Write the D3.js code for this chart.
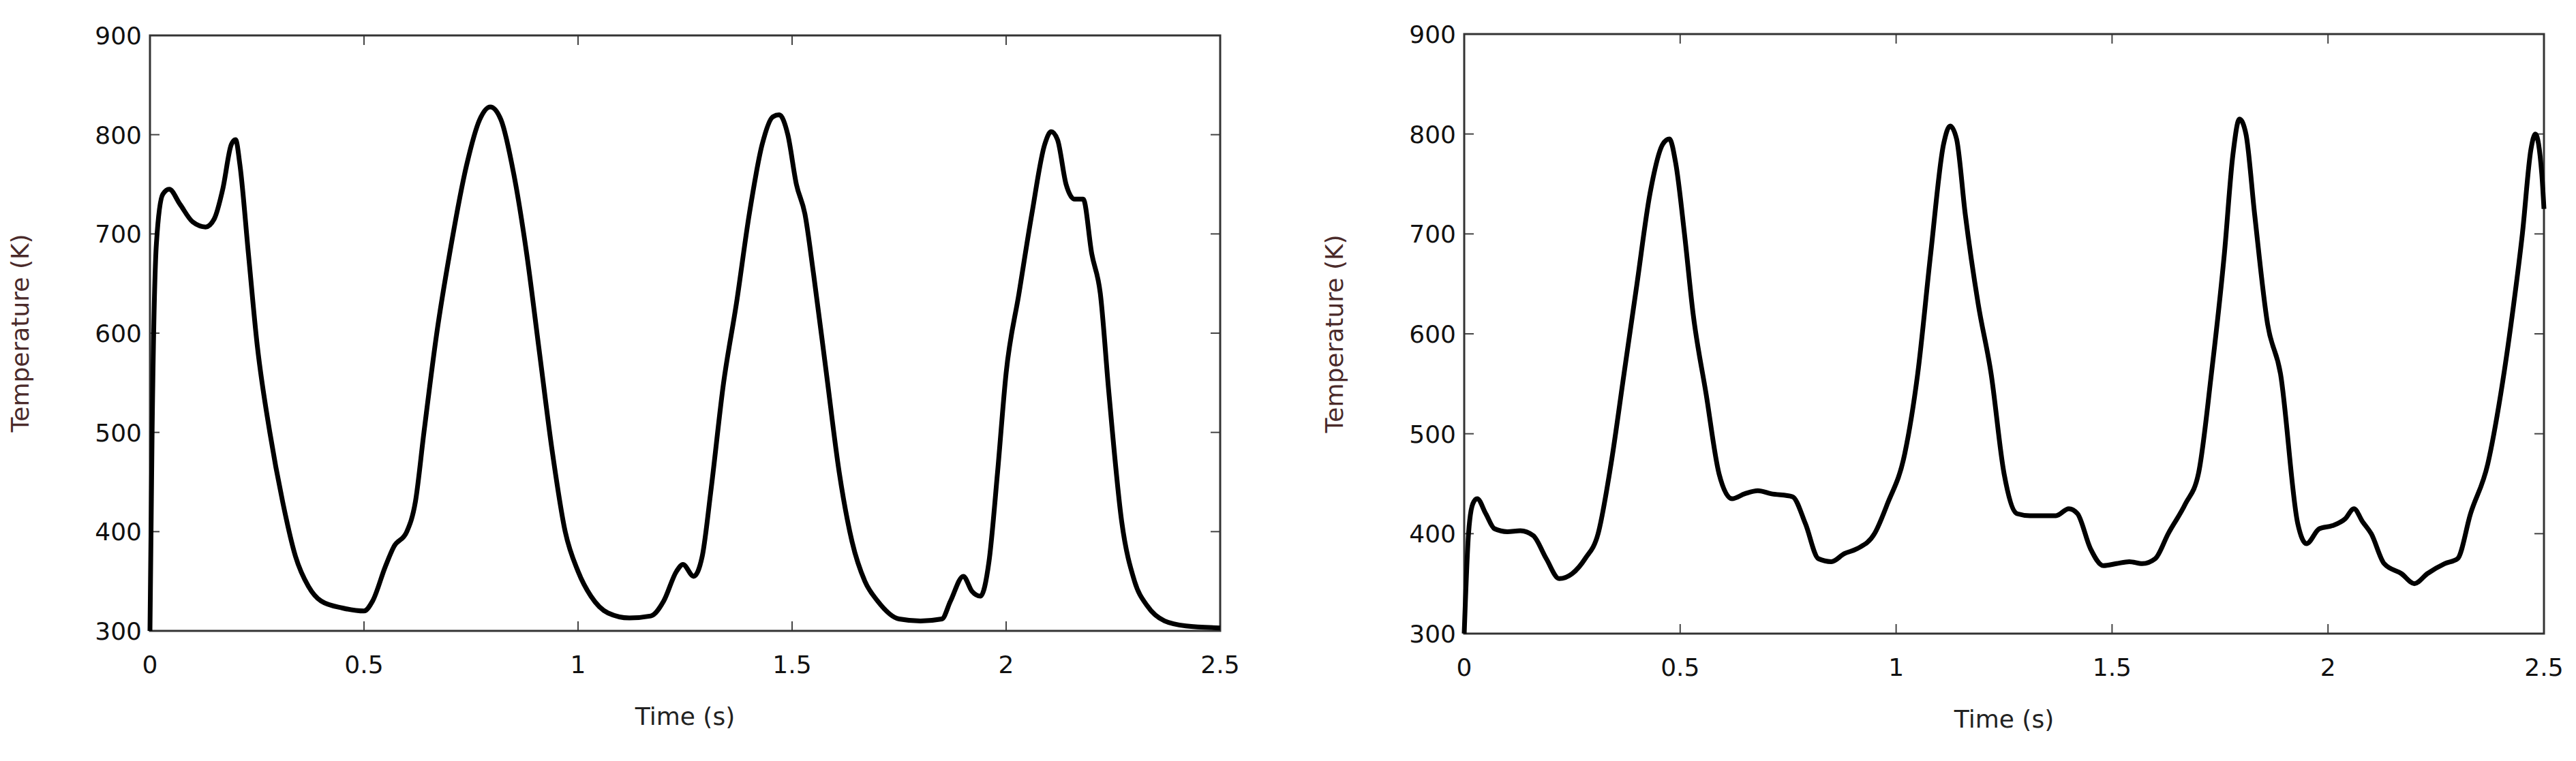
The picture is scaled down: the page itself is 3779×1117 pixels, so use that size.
<!DOCTYPE html><html><head><meta charset="utf-8">
<script src="https://cdn.jsdelivr.net/npm/d3@7"></script>
<style>body{margin:0;background:#fff}</style></head><body>
<svg id="c" width="3779" height="1117"></svg>
<script>
const xTicks=[0,0.5,1,1.5,2,2.5];
const xTickLabels=["0","0.5","1","1.5","2","2.5"];
const yTicks=[300,400,500,600,700,800,900];
const leftTime=[0,0.005,0.015,0.03,0.045,0.07,0.1,0.13,0.15,0.17,0.19,0.2,0.21,0.23,0.25,0.28,0.31,0.34,0.37,0.4,0.45,0.5,0.52,0.55,0.57,0.6,0.62,0.64,0.67,0.7,0.74,0.77,0.795,0.82,0.85,0.88,0.91,0.94,0.97,1.0,1.03,1.07,1.12,1.17,1.2,1.23,1.245,1.27,1.29,1.31,1.34,1.37,1.4,1.43,1.455,1.47,1.49,1.51,1.53,1.55,1.58,1.61,1.64,1.67,1.7,1.75,1.8,1.85,1.87,1.9,1.92,1.94,1.96,1.98,2.0,2.03,2.06,2.09,2.105,2.12,2.14,2.16,2.18,2.2,2.22,2.24,2.27,2.3,2.33,2.37,2.42,2.5];
const leftTemp=[300,500,690,740,745,730,712,707,715,745,790,795,770,680,590,500,430,375,345,330,323,320,330,365,385,400,430,500,600,680,770,815,828,815,760,680,580,480,400,360,335,318,313,315,330,360,367,355,375,440,550,630,720,790,818,820,800,750,720,660,560,460,390,350,330,312,310,312,330,355,340,335,370,460,560,640,720,790,803,795,750,735,735,680,640,540,410,350,325,310,305,303];
const rightTime=[0,0.01,0.02,0.03,0.05,0.07,0.1,0.13,0.16,0.19,0.22,0.25,0.28,0.31,0.34,0.37,0.4,0.43,0.46,0.475,0.49,0.51,0.53,0.56,0.59,0.62,0.65,0.68,0.71,0.76,0.79,0.82,0.85,0.88,0.91,0.95,0.98,1.02,1.05,1.08,1.11,1.125,1.14,1.16,1.19,1.22,1.25,1.28,1.31,1.34,1.37,1.4,1.42,1.45,1.48,1.51,1.54,1.57,1.6,1.63,1.67,1.7,1.73,1.76,1.78,1.795,1.81,1.83,1.86,1.89,1.93,1.95,1.98,2.01,2.04,2.06,2.08,2.1,2.13,2.17,2.2,2.23,2.27,2.3,2.33,2.37,2.4,2.43,2.45,2.47,2.48,2.495,2.5];
const rightTemp=[300,400,430,435,420,405,402,403,398,375,355,360,375,400,470,560,650,740,790,795,770,700,620,540,460,435,440,443,440,437,410,375,372,380,385,400,430,480,560,680,790,808,795,720,630,560,460,420,418,418,418,425,420,385,368,370,372,370,375,400,430,460,560,680,780,815,800,720,610,560,410,390,405,408,415,425,412,400,370,360,350,360,370,375,420,470,540,630,700,785,800,760,725];

const svg=d3.select("#c");
function panel(x0,x1,y0,y1,t,v){
  const x=d3.scaleLinear().domain([0,2.5]).range([x0,x1]);
  const y=d3.scaleLinear().domain([300,900]).range([y1,y0]);
  const g=svg.append("g");
  const tl=14;
  xTicks.forEach(d=>{
    g.append("line").attr("x1",x(d)).attr("x2",x(d)).attr("y1",y1).attr("y2",y1-tl).attr("stroke","#444").attr("stroke-width",2);
    g.append("line").attr("x1",x(d)).attr("x2",x(d)).attr("y1",y0).attr("y2",y0+tl).attr("stroke","#444").attr("stroke-width",2);
  });
  yTicks.forEach(d=>{
    g.append("line").attr("x1",x0).attr("x2",x0+tl).attr("y1",y(d)).attr("y2",y(d)).attr("stroke","#444").attr("stroke-width",2);
    g.append("line").attr("x1",x1).attr("x2",x1-tl).attr("y1",y(d)).attr("y2",y(d)).attr("stroke","#444").attr("stroke-width",2);
  });
  g.append("rect").attr("x",x0).attr("y",y0).attr("width",x1-x0).attr("height",y1-y0).attr("fill","none").attr("stroke","#333").attr("stroke-width",3);
  g.selectAll(".xl").data(xTicks).enter().append("text").attr("x",d=>x(d)).attr("y",y1+62)
   .attr("text-anchor","middle").attr("font-family","DejaVu Sans").attr("font-size",36).attr("fill","#111").text((d,i)=>xTickLabels[i]);
  g.selectAll(".yl").data(yTicks).enter().append("text").attr("x",x0-12).attr("y",d=>y(d)+13)
   .attr("text-anchor","end").attr("font-family","DejaVu Sans").attr("font-size",36).attr("fill","#111").text(d=>d);
  g.append("text").attr("x",(x0+x1)/2).attr("y",y1+138).attr("text-anchor","middle").attr("font-family","DejaVu Sans").attr("font-size",36).attr("fill","#222").text("Time (s)");
  g.append("text").attr("transform",`translate(${x0-178},${(y0+y1)/2}) rotate(-90)`).attr("text-anchor","middle").attr("font-family","DejaVu Sans").attr("font-size",36).attr("fill","#4a2a2a").text("Temperature (K)");
  const line=d3.line().x((d,i)=>x(t[i])).y(d=>y(d)).curve(d3.curveMonotoneX);
  g.append("path").datum(v).attr("d",line).attr("fill","none").attr("stroke","#000").attr("stroke-width",7).attr("stroke-linejoin","round");
}
panel(220,1790,52,926,leftTime,leftTemp);
panel(2148,3732,50,930,rightTime,rightTemp);
</script></body></html>
